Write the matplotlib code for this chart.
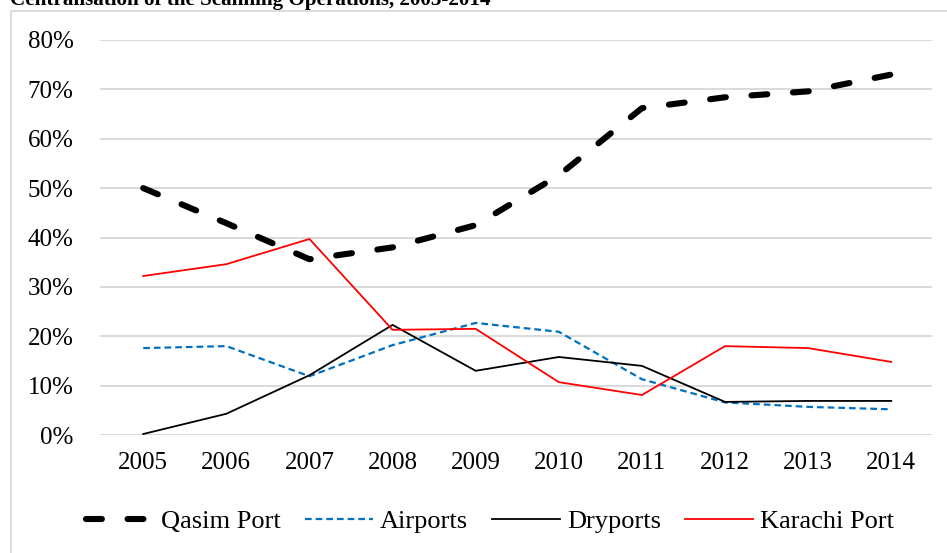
import matplotlib
matplotlib.use('Agg')
import matplotlib.pyplot as plt
from matplotlib.patches import Rectangle
from matplotlib.ticker import PercentFormatter

plt.rcParams['font.family'] = ['Liberation Serif', 'DejaVu Serif']

years = ['2005', '2006', '2007', '2008', '2009', '2010', '2011', '2012', '2013', '2014']
qasim = [50.0, 42.9, 35.6, 38.0, 42.5, 52.6, 66.2, 68.4, 69.6, 73.0]
airports = [17.6, 18.0, 11.9, 18.2, 22.7, 20.9, 11.3, 6.6, 5.7, 5.2]
dryports = [0.2, 4.3, 12.1, 22.3, 13.0, 15.8, 14.0, 6.7, 6.9, 6.9]
karachi = [32.2, 34.6, 39.7, 21.3, 21.5, 10.7, 8.1, 18.0, 17.6, 14.8]

W, H = 947, 553
fig = plt.figure(figsize=(W / 100, H / 100), dpi=100)
ax = fig.add_axes([100 / W, 1 - 435 / H, 832 / W, 395 / H])

x = range(len(years))
ax.plot(x, qasim, color='black', lw=4.4, dashes=(2.6, 4.2), dash_capstyle='round',
        label='Qasim Port', zorder=3)
ax.plot(x, airports, color='#0070C0', lw=1.6, dashes=(3, 1.8), label='Airports', zorder=3)
ax.plot(x, dryports, color='black', lw=1.3, label='Dryports', zorder=3)
ax.plot(x, karachi, color='#FF0000', lw=1.3, label='Karachi Port', zorder=3)

ax.set_xlim(-0.52, len(years) - 0.51)
ax.set_ylim(0, 80)
ax.set_yticks(range(0, 81, 10))
ax.yaxis.set_major_formatter(PercentFormatter(decimals=0))
ax.set_xticks(list(x))
ax.set_xticklabels(years)
ax.tick_params(axis='both', length=0, labelsize=18)
ax.tick_params(axis='y', pad=19)
ax.tick_params(axis='x', pad=12)
ax.grid(axis='y', color='#d9d9d9', lw=1.4)
ax.set_axisbelow(True)
for s in ax.spines.values():
    s.set_visible(False)

fig.legend(loc='center', bbox_to_anchor=(490 / W, 1 - 521 / H), ncol=4, frameon=False,
           fontsize=19, handlelength=2.6, handletextpad=0.25, columnspacing=0.9)

# outer chart border (partly outside the image)
fig.patches.append(Rectangle((11 / W, -0.05), 1.0, 1 - 11 / H + 0.05, transform=fig.transFigure,
                             fill=False, edgecolor='#d9d9d9', lw=1.3, zorder=0))

fig.text(10 / W, 1 - 5 / H, 'Centralisation of the Scanning Operations, 2005-2014',
         fontsize=15.2, fontweight='bold', va='baseline', ha='left')

fig.savefig('out.png', dpi=100)
